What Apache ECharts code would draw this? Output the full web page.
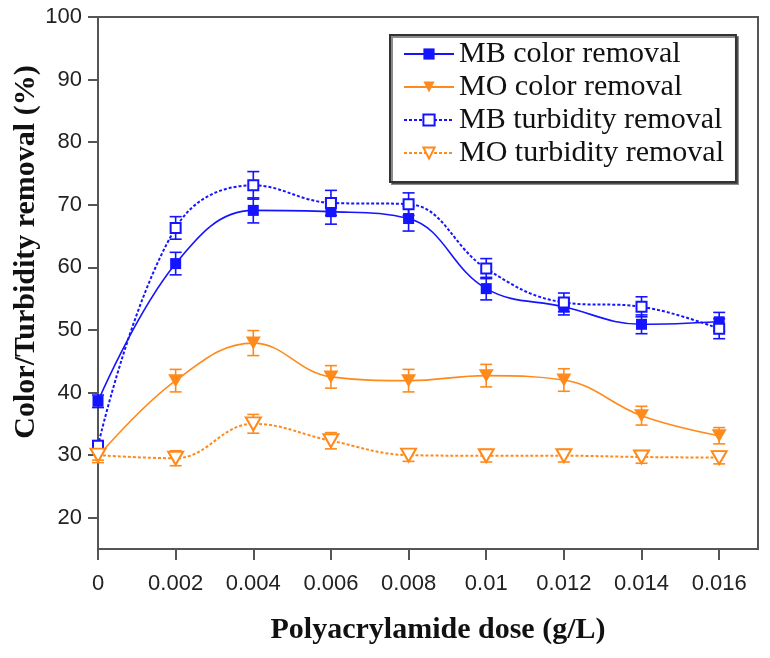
<!DOCTYPE html>
<html><head><meta charset="utf-8">
<script src="https://cdn.jsdelivr.net/npm/echarts@6.0.0/dist/echarts.min.js"></script>
<style>html,body{margin:0;padding:0;background:#fff}#c{width:770px;height:658px}</style>
</head><body><div id="c"></div>
<script>
// ---- data ----
const doses = [0, 0.002, 0.004, 0.006, 0.008, 0.01, 0.012, 0.014, 0.016];
const xTickLabels = ['0','0.002','0.004','0.006','0.008','0.01','0.012','0.014','0.016'];
const yTicks = [20, 30, 40, 50, 60, 70, 80, 90, 100];
const seriesNames = ['MB color removal', 'MO color removal', 'MB turbidity removal', 'MO turbidity removal'];
const mbColor    = [38.6, 60.6, 69.1, 68.9, 67.8, 56.6, 53.7, 50.9, 51.3];
const mbColorErr = [1.0, 1.8, 2.0, 2.0, 2.0, 1.8, 1.3, 1.5, 1.5];
const moColor    = [29.8, 41.9, 47.9, 42.5, 41.9, 42.7, 42.0, 36.3, 33.1];
const moColorErr = [1.0, 1.8, 2.0, 1.8, 1.8, 1.8, 1.8, 1.5, 1.3];
const mbTurb     = [31.5, 66.3, 73.1, 70.3, 70.1, 59.8, 54.4, 53.7, 50.2];
const mbTurbErr  = [0.8, 1.8, 2.2, 2.0, 1.8, 1.6, 1.5, 1.6, 1.6];
const moTurb     = [30.0, 29.5, 35.0, 32.3, 30.0, 29.9, 29.9, 29.7, 29.6];
const moTurbErr  = [0.8, 1.2, 1.5, 1.3, 1.0, 1.0, 1.0, 1.0, 1.0];

const BLUE = '#1414ff';
const ORANGE = '#ff8a1c';
const AXIS = '#555';

function pairs(vals) { return doses.map((d, i) => [d, vals[i]]); }

function errSeries(vals, errs, color, name) {
  return {
    type: 'custom', name: name, z: 1, silent: true,
    data: doses.map((d, i) => [d, vals[i] - errs[i], vals[i] + errs[i]]),
    encode: { x: 0, y: [1, 2] },
    renderItem: function (params, api) {
      const lo = api.coord([api.value(0), api.value(1)]);
      const hi = api.coord([api.value(0), api.value(2)]);
      const hw = 6;
      const st = { stroke: color, lineWidth: 1.6 };
      return { type: 'group', children: [
        { type: 'line', shape: { x1: lo[0], y1: lo[1], x2: hi[0], y2: hi[1] }, style: st },
        { type: 'line', shape: { x1: lo[0] - hw, y1: lo[1], x2: lo[0] + hw, y2: lo[1] }, style: st },
        { type: 'line', shape: { x1: hi[0] - hw, y1: hi[1], x2: hi[0] + hw, y2: hi[1] }, style: st }
      ]};
    }
  };
}

const chart = echarts.init(document.getElementById('c'), null, { renderer: 'canvas' });
chart.setOption({
  animation: false,
  backgroundColor: '#fff',
  grid: { left: 98, top: 17, right: 12, bottom: 109, show: true, borderColor: AXIS, borderWidth: 2, backgroundColor: 'transparent' },
  xAxis: {
    type: 'value', min: 0, max: 0.017,
    axisLine: { show: true, lineStyle: { color: AXIS, width: 2 } },
    axisTick: { show: true, length: 11, customValues: doses, lineStyle: { color: AXIS, width: 2 } },
    axisLabel: {
      customValues: doses, margin: 24, fontSize: 22, fontFamily: 'Liberation Sans', color: '#222',
      formatter: function (v) {
        for (let i = 0; i < doses.length; i++) if (Math.abs(doses[i] - v) < 1e-9) return xTickLabels[i];
        return '';
      }
    },
    splitLine: { show: false }
  },
  yAxis: {
    type: 'value', min: 15, max: 100,
    axisLine: { show: true, lineStyle: { color: AXIS, width: 2 } },
    axisTick: { show: true, length: 10, customValues: yTicks, lineStyle: { color: AXIS, width: 2 } },
    axisLabel: { customValues: yTicks, margin: 16, fontSize: 22, fontFamily: 'Liberation Sans', color: '#222' },
    splitLine: { show: false }
  },
  legend: {
    data: seriesNames,
    orient: 'vertical', left: 390, top: 35,
    itemWidth: 50, itemHeight: 14, itemGap: 3,
    padding: [4, 12, 14, 13],
    backgroundColor: '#fff', borderColor: '#333', borderWidth: 2,
    shadowColor: 'rgba(0,0,0,0.45)', shadowOffsetX: 2, shadowOffsetY: 2, shadowBlur: 0,
    textStyle: { fontFamily: 'Liberation Serif', fontSize: 30, color: '#111' }
  },
  graphic: [
    { type: 'text', x: 26, y: 252, rotation: Math.PI / 2,
      style: { text: 'Color/Turbidity removal (%)', font: 'bold 30px "Liberation Serif"', fill: '#111', align: 'center', verticalAlign: 'middle' } },
    { type: 'text', x: 438, y: 630,
      style: { text: 'Polyacrylamide dose (g/L)', font: 'bold 30px "Liberation Serif"', fill: '#111', align: 'center', verticalAlign: 'middle' } }
  ],
  series: [
    errSeries(mbColor, mbColorErr, BLUE, 'e1'),
    errSeries(moColor, moColorErr, ORANGE, 'e2'),
    errSeries(mbTurb, mbTurbErr, BLUE, 'e3'),
    errSeries(moTurb, moTurbErr, ORANGE, 'e4'),
    { name: seriesNames[0], type: 'line', smooth: 0.4, z: 3, data: pairs(mbColor),
      symbol: 'rect', symbolSize: 11, color: BLUE,
      itemStyle: { color: BLUE },
      lineStyle: { color: BLUE, width: 1.6, type: 'solid' } },
    { name: seriesNames[1], type: 'line', smooth: 0.4, z: 3, data: pairs(moColor),
      symbol: 'triangle', symbolRotate: 180, symbolSize: [15, 13], color: ORANGE,
      itemStyle: { color: ORANGE },
      lineStyle: { color: ORANGE, width: 1.6, type: 'solid' } },
    { name: seriesNames[2], type: 'line', smooth: 0.4, z: 3, data: pairs(mbTurb),
      symbol: 'emptyRect', symbolSize: 10, color: BLUE,
      itemStyle: { color: BLUE, borderWidth: 2 },
      lineStyle: { color: BLUE, width: 2, type: [3, 2] } },
    { name: seriesNames[3], type: 'line', smooth: 0.4, z: 3, data: pairs(moTurb),
      symbol: 'emptyTriangle', symbolRotate: 180, symbolSize: [15, 13], color: ORANGE,
      itemStyle: { color: ORANGE, borderWidth: 2 },
      lineStyle: { color: ORANGE, width: 2, type: [3, 2] } }
  ]
});
</script>
</body></html>
